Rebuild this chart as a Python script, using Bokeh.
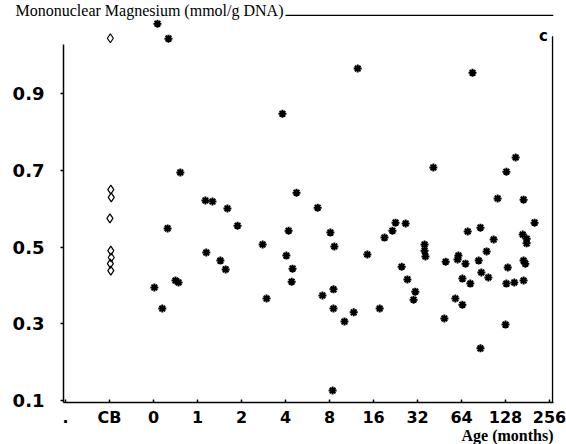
from bokeh.plotting import figure
from bokeh.models import Range1d, FixedTicker, Label, Title
from bokeh.embed import file_html
from bokeh.resources import INLINE

# x positions in tick units: "."=-2, CB=-1, 0 months=0, 1=1, 2=2, 4=3, 8=4, ... 256=9
x_ticks = [-2, -1, 0, 1, 2, 3, 4, 5, 6, 7, 8, 9]
x_tick_labels = [".", "CB", "0", "1", "2", "4", "8", "16", "32", "64", "128", "256"]
y_ticks = [0.1, 0.3, 0.5, 0.7, 0.9]
y_tick_labels = ["0.1", "0.3", "0.5", "0.7", "0.9"]

# cord blood samples
cb_x = [-0.98, -0.97, -0.96, -0.99, -0.97, -0.96, -0.98, -0.97]
cb_mg = [1.045, 0.650, 0.630, 0.575, 0.491, 0.473, 0.457, 0.439]

# children / adults (age position, Mg)
age_pos = [0.09, 0.34, 0.61, 0.32, 0.02, 0.20, 0.50, 0.57,
           1.18, 1.34, 1.20, 1.52, 1.64, 1.68, 1.91,
           2.48, 2.57, 2.93, 3.02, 3.07, 3.16, 3.14, 3.25, 3.73,
           4.02, 4.11, 3.84, 4.09, 4.09, 4.07, 4.34, 4.55, 4.64, 4.86,
           5.14, 5.25, 5.43, 5.50, 5.64, 5.73, 5.77, 5.95, 5.91,
           6.16, 6.16, 6.18, 6.36, 6.61, 6.64, 6.91, 6.93,
           7.02, 7.02, 6.86, 7.09, 7.14, 7.20, 7.25, 7.39, 7.43, 7.43, 7.45, 7.57, 7.61, 7.73, 7.82,
           8.02, 8.00, 8.05, 8.02, 8.20, 8.23, 8.39, 8.48, 8.48, 8.41, 8.41, 8.45, 8.41, 8.66]
mg = [1.083, 1.044, 0.695, 0.549, 0.395, 0.340, 0.413, 0.408,
      0.622, 0.619, 0.486, 0.465, 0.442, 0.601, 0.556,
      0.507, 0.366, 0.848, 0.478, 0.543, 0.444, 0.410, 0.642, 0.603,
      0.538, 0.502, 0.374, 0.390, 0.340, 0.126, 0.306, 0.330, 0.966, 0.481,
      0.340, 0.525, 0.543, 0.564, 0.449, 0.562, 0.416, 0.384, 0.363,
      0.507, 0.491, 0.476, 0.708, 0.314, 0.462, 0.468, 0.478,
      0.418, 0.350, 0.366, 0.457, 0.541, 0.405, 0.955, 0.465, 0.551, 0.236, 0.434, 0.489, 0.421, 0.520, 0.627,
      0.697, 0.298, 0.447, 0.405, 0.408, 0.734, 0.533, 0.522, 0.510, 0.624, 0.413, 0.457, 0.465, 0.564]

X0, X1 = -2.045, 9.09
Y0, Y1 = 0.0948, 1.107

p = figure(width=566, height=444, output_backend="svg", toolbar_location=None,
           x_range=Range1d(X0, X1), y_range=Range1d(Y0, Y1),
           min_border_left=63, min_border_right=13, min_border_top=14, min_border_bottom=42)
p.outline_line_color = None
p.grid.grid_line_color = None
p.background_fill_color = "white"
p.border_fill_color = "white"

# title at top left, sitting on the frame's top line
p.title.text = "Mononuclear Magnesium (mmol/g DNA)"
p.title.align = "left"
p.title.offset = -48
p.title.standoff = -9
p.title.text_font = "Liberation Serif"
p.title.text_font_style = "normal"
p.title.text_font_size = "16px"
p.title.text_color = "black"

# left axis
ya = p.yaxis[0]
ya.ticker = FixedTicker(ticks=y_ticks)
ya.major_label_overrides = {t: l for t, l in zip(y_ticks, y_tick_labels)}
ya.minor_tick_line_color = None
ya.major_tick_out = 3
ya.major_tick_in = 0
ya.axis_line_width = 1.5
ya.major_tick_line_width = 1.5
ya.bounds = (Y0, 1.03)
ya.major_label_text_font = "DejaVu Sans"
ya.major_label_text_font_style = "bold"
ya.major_label_text_font_size = "18px"
ya.major_label_text_color = "black"
ya.major_label_standoff = 16

# bottom axis
xa = p.xaxis[0]
xa.ticker = FixedTicker(ticks=x_ticks)
xa.major_label_overrides = {t: l for t, l in zip(x_ticks, x_tick_labels)}
xa.minor_tick_line_color = None
xa.major_tick_out = 0
xa.major_tick_in = 3
xa.axis_line_width = 1.5
xa.major_tick_line_width = 1.5
xa.major_label_text_font = "DejaVu Sans"
xa.major_label_text_font_style = "bold"
xa.major_label_text_font_size = "16px"
xa.major_label_text_color = "black"
xa.major_label_standoff = 5

# x axis title, right aligned below the tick labels
p.add_layout(Title(text="Age (months)", align="right", standoff=-10,
                   text_font="Liberation Serif", text_font_style="bold",
                   text_font_size="16px", text_color="black"), "below")

# top and right frame lines
p.segment(x0=[3.0], y0=[Y1 - 0.002], x1=[X1], y1=[Y1 - 0.002], line_color="black", line_width=1.5)
p.segment(x0=[X1 - 0.02], y0=[Y0], x1=[X1 - 0.02], y1=[1.05], line_color="black", line_width=1.5)

p.scatter(cb_x, cb_mg, marker="diamond", size=9, fill_color=None,
          line_color="black", line_width=1.2)
p.scatter(age_pos, mg, marker="asterisk", size=8, line_color="black", line_width=2)

p.add_layout(Label(x=8.86, y=1.052, text="c", text_font="DejaVu Sans",
                   text_font_style="bold", text_font_size="15px",
                   text_baseline="middle", text_align="center", text_color="black"))

open("out.html", "w").write(file_html(p, INLINE))
